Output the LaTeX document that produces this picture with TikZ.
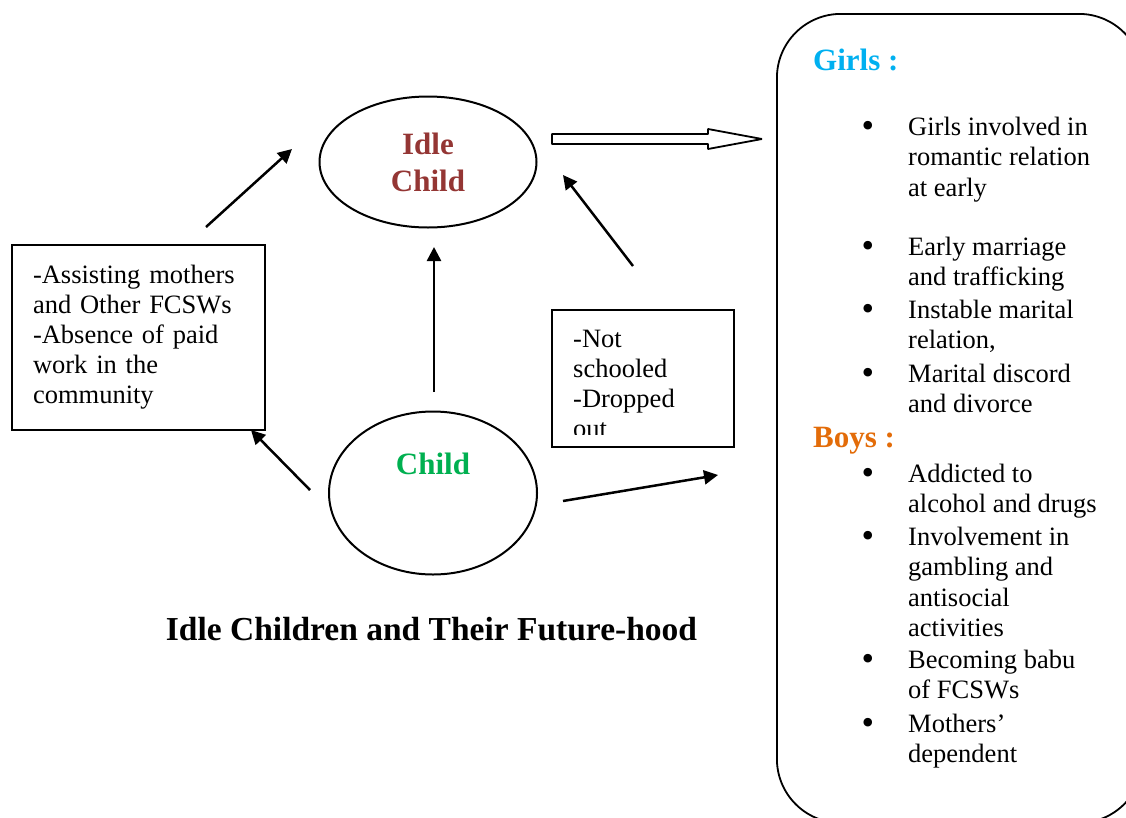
\documentclass[tikz,border=0pt]{standalone}
\usepackage{fontspec}
\setmainfont{Liberation Serif}
\usetikzlibrary{arrows.meta,shapes.geometric}
\definecolor{idlered}{HTML}{943634}
\definecolor{childgreen}{HTML}{00B050}
\definecolor{girlsblue}{HTML}{00B0F0}
\definecolor{boysorange}{HTML}{E36C09}
% bullet hung to the left of an item's first line
\newcommand\itemdot{\llap{\raisebox{-0.1em}{\scalebox{1.35}{\textbullet}}\hspace{34pt}}}

\begin{document}
\begin{tikzpicture}[x=1pt,y=-1pt,
  % multi-line texts are placed by the baseline of their last line
  body/.style={font=\fontsize{26.5}{30.5}\selectfont, align=left, inner sep=0pt, anchor=base west},
  heading/.style={font=\fontsize{31}{37}\selectfont\bfseries, inner sep=0pt, anchor=base west},
  bubble/.style={draw, line width=2pt, ellipse, inner sep=0pt},
  bubbletext/.style={font=\fontsize{31}{37}\selectfont\bfseries, align=center, inner sep=0pt},
  frame/.style={draw, line width=1.8pt},
  link/.style={line width=2.5pt, -{Triangle[length=14pt,width=14pt]}}]

\useasboundingbox (0,0) rectangle (1126,817);

% the two states
\node[bubble, minimum width=217pt, minimum height=131pt, bubbletext, text=idlered]
  (idle) at (428,162) {Idle\\Child};
\node[bubble, minimum width=208pt, minimum height=163pt] (child) at (433,493) {};
\node[bubbletext, text=childgreen, anchor=base] (childtxt) at (433,474) {Child};

% reasons boxes
\node[frame, minimum width=253pt, minimum height=185pt, text width=211pt,
  inner xsep=21pt, inner ysep=0pt, align=left, font=\fontsize{26.5}{30}\selectfont]
  (work) at (138.5,337.5)
  {-Assisting mothers\\and Other FCSWs\\-Absence of paid\\work in the\\community};

\node[frame, minimum width=182pt, minimum height=137pt] (school) at (643,378.5) {};
\begin{scope}
  \clip (553,311) rectangle (733,434);
  \node[body, font=\fontsize{26.5}{30}\selectfont] (schooltxt) at (573,437)
    {-Not\\schooled\\-Dropped\\out};
\end{scope}

% outcomes panel
\begin{scope}
  \clip (0,0) rectangle (1126,817);
  \node[frame, rounded corners=64pt, minimum width=366pt, minimum height=809pt,
    anchor=north west, inner sep=0pt] (future) at (776,13) {};
\end{scope}

\node[heading, text=girlsblue] (girls) at (813,70) {Girls :};
\node[body] (g1) at (908,196) {\itemdot Girls involved in\\romantic relation\\at early};
\node[body] (g2) at (908,285.5) {\itemdot Early marriage\\and trafficking};
\node[body] (g3) at (908,348.5) {\itemdot Instable marital\\relation,};
\node[body] (g4) at (908,412.5) {\itemdot Marital discord\\and divorce};

\node[heading, text=boysorange] (boys) at (813,447) {Boys :};
\node[body] (b1) at (908,512.5) {\itemdot Addicted to\\alcohol and drugs};
\node[body] (b2) at (908,636.5) {\itemdot Involvement in\\gambling and\\antisocial\\activities};
\node[body] (b3) at (908,698.5) {\itemdot Becoming babu\\of FCSWs};
\node[body] (b4) at (908,762.5) {\itemdot Mothers’\\dependent};

% caption
\node[font=\fontsize{33.5}{40}\selectfont\bfseries, inner sep=0pt, anchor=base]
  (title) at (431.5,640) {Idle Children and Their Future-hood};

% arrow ends
\coordinate (workout) at (206,227);
\coordinate (idlein1) at (292,149);
\coordinate (schoolout) at (633,266);
\coordinate (idlein2) at (563,175);
\coordinate (childup) at (434,392);
\coordinate (idlein3) at (434,247);
\coordinate (childleft) at (310,490);
\coordinate (workin) at (251,430);
\coordinate (childright) at (563,501);
\coordinate (futurein) at (718,475);

\draw[link] (workout) -- (idlein1);
\draw[link] (schoolout) -- (idlein2);
\draw[link] (childup) -- (idlein3);
\draw[link] (childleft) -- (workin);
\draw[link] (childright) -- (futurein);

% hollow block arrow from the idle child to the outcomes
\coordinate (blockstart) at (552,139);
\coordinate (blocktip) at (762,139);
\draw[line width=1.8pt, line join=bevel]
  (blockstart) ++(0,-5) -- ++(156,0) -- ++(0,-5) -- (blocktip)
  -- ++(-54,10) -- ++(0,-5) -- ++(-156,0) -- cycle;

\end{tikzpicture}
\end{document}
